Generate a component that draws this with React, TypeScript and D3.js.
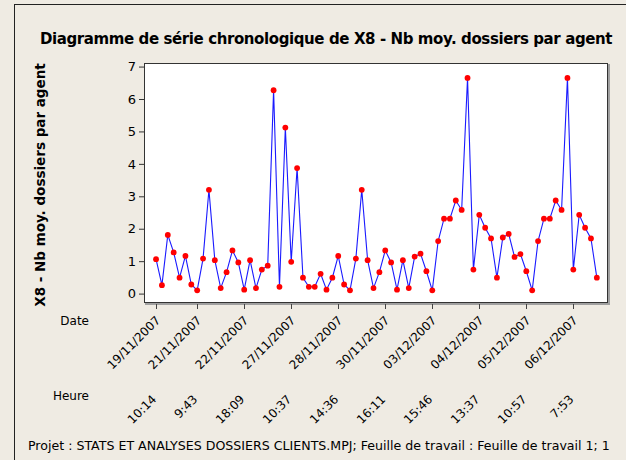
import React, { useEffect, useRef } from 'react';
import * as d3 from 'd3';

// X8 values, one per observation (76 rows)
const x8Values: number[] = [
  1.06, 0.26, 1.81, 1.27, 0.49, 1.16, 0.28, 0.10, 1.08, 3.20,
  1.03, 0.17, 0.66, 1.33, 0.96, 0.12, 1.03, 0.17, 0.74, 0.86,
  6.27, 0.21, 5.12, 0.98, 3.87, 0.49, 0.21, 0.21, 0.61, 0.12,
  0.49, 1.16, 0.28, 0.10, 1.08, 3.20, 1.03, 0.17, 0.66, 1.33,
  0.96, 0.12, 1.03, 0.17, 1.14, 1.23, 0.69, 0.10, 1.62, 2.31,
  2.31, 2.87, 2.58, 6.65, 0.74, 2.43, 2.03, 1.70, 0.49, 1.73,
  1.84, 1.13, 1.22, 0.69, 0.10, 1.62, 2.31, 2.31, 2.87, 2.58,
  6.65, 0.74, 2.43, 2.03, 1.70, 0.49,
];

// index (1-based) of the labelled observations
const tickIndex: number[] = [1, 8, 16, 24, 32, 40, 48, 56, 64, 72];
const tickDates: string[] = [
  '19/11/2007', '21/11/2007', '22/11/2007', '27/11/2007', '28/11/2007',
  '30/11/2007', '03/12/2007', '04/12/2007', '05/12/2007', '06/12/2007',
];
const tickHours: string[] = [
  '10:14', '9:43', '18:09', '10:37', '14:36', '16:11', '15:46', '13:37', '10:57', '7:53',
];
const yTicks: number[] = [0, 1, 2, 3, 4, 5, 6, 7];

const FONT = 'DejaVu Sans, Verdana, sans-serif';

const App = () => {
  const svgRef = useRef<SVGSVGElement>(null);

  useEffect(() => {
    const svg = d3.select(svgRef.current);
    svg.selectAll('*').remove();

    const width = 626;
    const height = 460;
    const plot = { left: 144, top: 63, right: 608, bottom: 303 };

    // background + outer frame
    svg.append('rect')
      .attr('width', width)
      .attr('height', height)
      .style('fill', '#efebe3');
    svg.append('rect')
      .attr('x', 14.5)
      .attr('y', 4.5)
      .attr('width', 700)
      .attr('height', 600)
      .style('fill', 'none')
      .style('stroke', '#222')
      .style('stroke-width', 1);

    const x = d3.scaleLinear()
      .domain([-1.05, 77.9])
      .range([plot.left, plot.right]);
    const y = d3.scaleLinear()
      .domain([-0.29, 7.11])
      .range([plot.bottom, plot.top]);

    // plot area with a light shadow on the right and bottom
    svg.append('rect')
      .attr('x', plot.left + 1)
      .attr('y', plot.top + 1)
      .attr('width', plot.right - plot.left + 1)
      .attr('height', plot.bottom - plot.top + 1)
      .style('fill', '#a0a0a0');
    svg.append('rect')
      .attr('x', plot.left + 0.5)
      .attr('y', plot.top + 0.5)
      .attr('width', plot.right - plot.left - 1)
      .attr('height', plot.bottom - plot.top - 1)
      .style('fill', '#ffffff')
      .style('stroke', '#333')
      .style('stroke-width', 1);

    // title
    svg.append('text')
      .attr('x', 326)
      .attr('y', 44)
      .attr('text-anchor', 'middle')
      .style('font-family', FONT)
      .style('font-weight', 'bold')
      .style('font-size', '15px')
      .style('letter-spacing', '-0.4px')
      .style('fill', '#000')
      .text('Diagramme de série chronologique de X8 - Nb moy. dossiers par agent');

    // y axis
    const yAxis = svg.append('g')
      .attr('transform', `translate(${plot.left},0)`)
      .call(d3.axisLeft(y).tickValues(yTicks).tickSize(5).tickPadding(3).tickFormat(d3.format('d')));
    yAxis.select('.domain').remove();
    yAxis.selectAll('line').style('stroke', '#333');
    yAxis.selectAll('text')
      .style('font-family', FONT)
      .style('font-size', '13px')
      .style('fill', '#000');

    svg.append('text')
      .attr('transform', `translate(45,${(plot.top + plot.bottom) / 2 + 2}) rotate(-90)`)
      .attr('text-anchor', 'middle')
      .style('font-family', FONT)
      .style('font-weight', 'bold')
      .style('font-size', '13.5px')
      .style('fill', '#000')
      .text('X8 - Nb moy. dossiers par agent');

    // x ticks
    svg.append('g')
      .selectAll('line')
      .data(tickIndex)
      .enter()
      .append('line')
      .attr('x1', d => Math.round(x(d)) + 0.5)
      .attr('x2', d => Math.round(x(d)) + 0.5)
      .attr('y1', plot.bottom + 1)
      .attr('y2', plot.bottom + 6)
      .style('stroke', '#444');

    svg.append('g')
      .selectAll('text')
      .data(tickIndex)
      .enter()
      .append('text')
      .attr('transform', d => `translate(${x(d) + 5},${plot.bottom + 18}) rotate(-45)`)
      .attr('text-anchor', 'end')
      .style('font-family', FONT)
      .style('font-size', '12px')
      .style('fill', '#000')
      .text((d, i) => tickDates[i]);

    svg.append('g')
      .selectAll('text')
      .data(tickIndex)
      .enter()
      .append('text')
      .attr('transform', d => `translate(${x(d) + 1},${plot.bottom + 97}) rotate(-45)`)
      .attr('text-anchor', 'end')
      .style('font-family', FONT)
      .style('font-size', '12px')
      .style('fill', '#000')
      .text((d, i) => tickHours[i]);

    svg.append('text')
      .attr('x', 89)
      .attr('y', 325)
      .attr('text-anchor', 'end')
      .style('font-family', FONT)
      .style('font-size', '12px')
      .text('Date');
    svg.append('text')
      .attr('x', 89)
      .attr('y', 400)
      .attr('text-anchor', 'end')
      .style('font-family', FONT)
      .style('font-size', '12px')
      .text('Heure');

    // series
    const line = d3.line<number>()
      .x((d, i) => x(i + 1))
      .y(d => y(d));

    svg.append('path')
      .datum(x8Values)
      .attr('d', line)
      .style('fill', 'none')
      .style('stroke', '#1a1aff')
      .style('stroke-width', 1.1);

    svg.append('g')
      .selectAll('circle')
      .data(x8Values)
      .enter()
      .append('circle')
      .attr('cx', (d, i) => x(i + 1))
      .attr('cy', d => y(d))
      .attr('r', 2.9)
      .style('fill', '#ff0000');

    // footer
    svg.append('text')
      .attr('x', 28)
      .attr('y', 450)
      .style('font-family', FONT)
      .style('font-size', '12.6px')
      .style('fill', '#000')
      .text('Projet : STATS ET ANALYSES DOSSIERS CLIENTS.MPJ; Feuille de travail : Feuille de travail 1; 1');
  }, []);

  return (
    <svg
      ref={svgRef}
      width={626}
      height={460}
      style={{ position: 'absolute', left: 0, top: 0, display: 'block' }}
    />
  );
};

export default App;
